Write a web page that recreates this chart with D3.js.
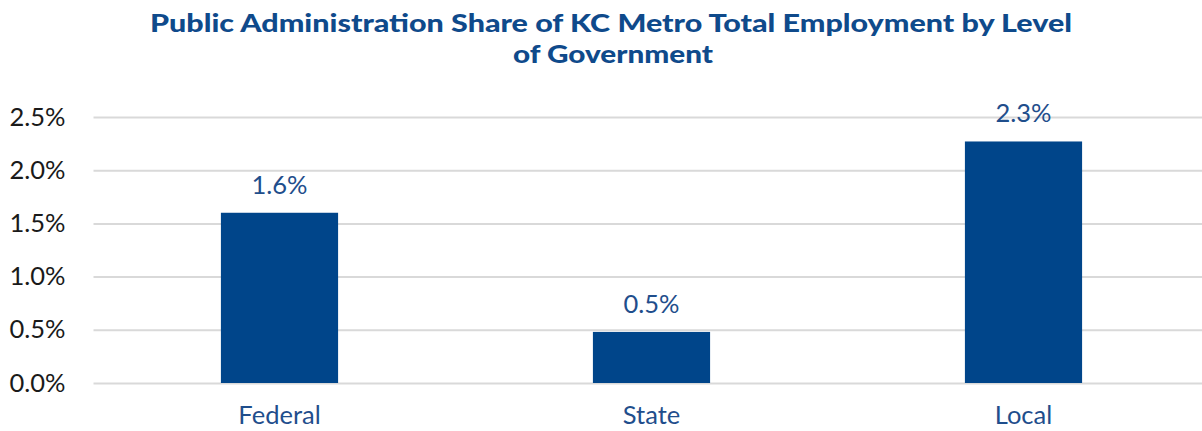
<!DOCTYPE html>
<html>
<head>
<meta charset="utf-8">
<script src="https://cdn.jsdelivr.net/npm/d3@7"></script>
<style>
  body { margin: 0; background: #fff; }
  svg { display: block; }
</style>
</head>
<body>
<div id="chart"></div>
<script>
// chart data
const categories = ["Federal", "State", "Local"];
const shares = [1.6, 0.48, 2.27];
const yTicks = [0, 0.5, 1.0, 1.5, 2.0, 2.5];
const titleLines = [
  "Public Administration Share of KC Metro Total Employment by Level",
  "of Government"
];

const svgWidth = 1202;
const svgHeight = 431;

const svg = d3.select("#chart")
  .append("svg")
  .attr("width", svgWidth)
  .attr("height", svgHeight);

const xScale = d3.scaleBand()
  .domain(categories)
  .range([93.5, 1209.5])
  .paddingInner(0.685)
  .paddingOuter(0.3425);

const yScale = d3.scaleLinear()
  .domain([0, 2.5])
  .range([383, 117]);

// title
svg.append("g")
  .selectAll("text")
  .data(titleLines)
  .enter()
  .append("text")
  .attr("x", (d, i) => i === 0 ? 611 : 613)
  .attr("y", (d, i) => 32 + i * 31)
  .attr("text-anchor", "middle")
  .attr("font-family", "Lato, sans-serif")
  .attr("font-weight", "900")
  .attr("font-size", 25)
  .attr("fill", "#0f4a8b")
  .attr("textLength", (d, i) => i === 0 ? 922 : 200)
  .attr("lengthAdjust", "spacingAndGlyphs")
  .text(d => d);

// gridlines
const leftAxis = d3.axisLeft(yScale)
  .tickValues(yTicks)
  .tickSize(-(1209.5 - 93.5))
  .tickFormat(d => d3.format(".1f")(d) + "%")
  .tickPadding(28);

const yAxis = svg.append("g")
  .attr("transform", "translate(93.5, 0)")
  .call(leftAxis);

yAxis.select(".domain").remove();
yAxis.selectAll(".tick line")
  .attr("stroke", "#d9d9d9")
  .attr("stroke-width", 2);
yAxis.selectAll(".tick text")
  .attr("font-family", "Lato, sans-serif")
  .attr("font-size", 25.5)
  .attr("fill", "#1a1a1a");

// bars
svg.append("g")
  .selectAll("rect")
  .data(shares)
  .enter()
  .append("rect")
  .attr("x", (d, i) => xScale(categories[i]))
  .attr("y", d => yScale(d))
  .attr("width", xScale.bandwidth())
  .attr("height", d => yScale(0) - yScale(d))
  .attr("fill", "#00458a");

// data labels
svg.append("g")
  .selectAll("text")
  .data(shares)
  .enter()
  .append("text")
  .attr("x", (d, i) => xScale(categories[i]) + xScale.bandwidth() / 2)
  .attr("y", d => yScale(d) - 19)
  .attr("text-anchor", "middle")
  .attr("font-family", "Lato, sans-serif")
  .attr("font-size", 25.5)
  .attr("fill", "#1f4e8c")
  .text(d => d3.format(".1f")(d) + "%");

// category labels
const bottomAxis = d3.axisBottom(xScale).tickSize(0).tickPadding(0);
const xAxis = svg.append("g")
  .attr("transform", "translate(0, 383)")
  .call(bottomAxis);
xAxis.select(".domain").remove();
xAxis.selectAll(".tick text")
  .attr("dy", null)
  .attr("y", 41)
  .attr("font-family", "Lato, sans-serif")
  .attr("font-size", 25.5)
  .attr("fill", "#1f4e8c");
</script>
</body>
</html>
